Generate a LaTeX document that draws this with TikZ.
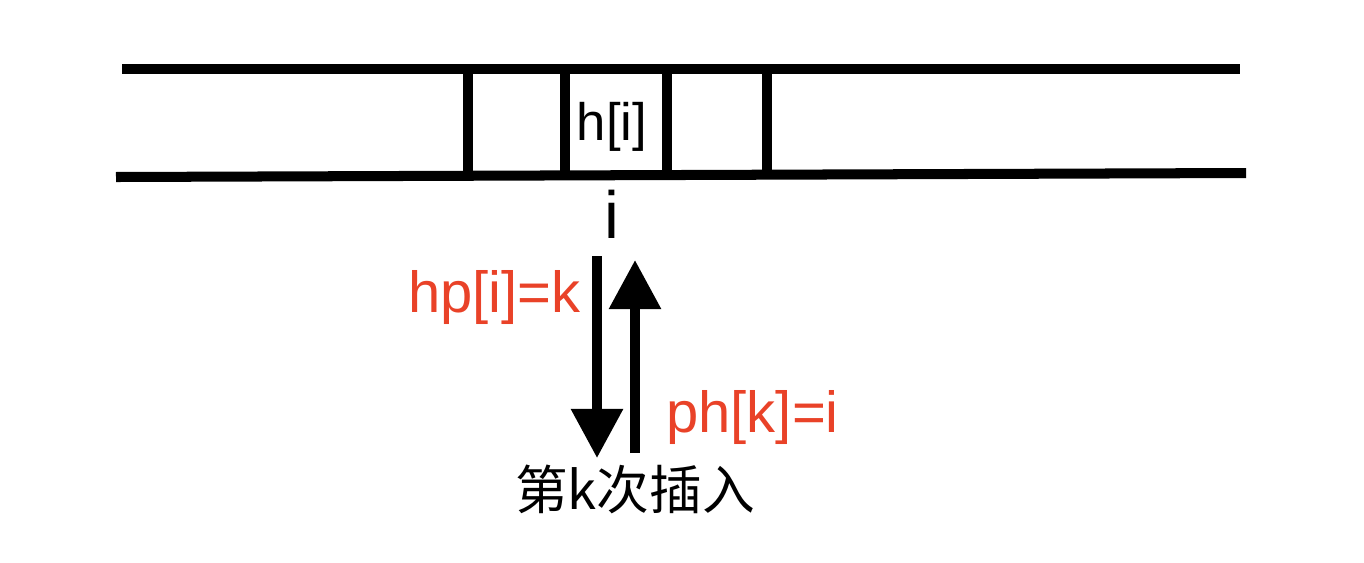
\documentclass[tikz,border=0pt]{standalone}
\usepackage{fontspec}
\setmainfont{Liberation Sans}
\newfontfamily\cjk{Noto Sans CJK SC}
\usetikzlibrary{arrows.meta}
\definecolor{hpred}{RGB}{233,66,40}
\tikzset{
  bar/.style={line width=5.7pt},
  cellwall/.style={line width=5.2pt},
  ptr/.style={line width=5.4pt,-{Triangle[length=28pt,width=28.5pt]}},
  lbl/.style={inner sep=0pt,anchor=base}
}
\begin{document}
\begin{tikzpicture}[x=0.02cm,y=-0.02cm]
  \useasboundingbox (0,0) rectangle (1364,562);
  % the array h (two long rails)
  \coordinate (tl) at (122,69);
  \coordinate (tr) at (1240,69);
  \coordinate (bl) at (116,177);
  \coordinate (br) at (1246,173);
  \draw[bar] (tl) -- (tr);
  \draw[bar] (bl) -- (br);
  % cell walls
  \foreach \x/\yb in {468/175.4, 565/175.1, 667/174.8, 767/174.5}
    \draw[cellwall] (\x,69) -- (\x,\yb);
  % labels of the cell
  \node[lbl,font=\fontsize{30}{30}\selectfont] (hi) at (612,140) {h[i]};
  \node[lbl,font=\fontsize{38}{38}\selectfont] (idx) at (612,238) {i};
  \node[lbl,font=\cjk\fontsize{30}{30}\selectfont] (ins) at (635,509) {第k次插入};
  % the two pointers
  \coordinate (dtop) at (597,256);
  \coordinate (dbot) at (597,458);
  \coordinate (ubot) at (635,453);
  \coordinate (utop) at (635,260);
  \draw[ptr] (dtop) -- (dbot);
  \draw[ptr] (ubot) -- (utop);
  \node[lbl,anchor=base east,text=hpred,font=\fontsize{33}{33}\selectfont] (hp) at (581,312) {hp[i]=k};
  \node[lbl,anchor=base west,text=hpred,font=\fontsize{33}{33}\selectfont] (ph) at (666,432) {ph[k]=i};
\end{tikzpicture}
\end{document}
